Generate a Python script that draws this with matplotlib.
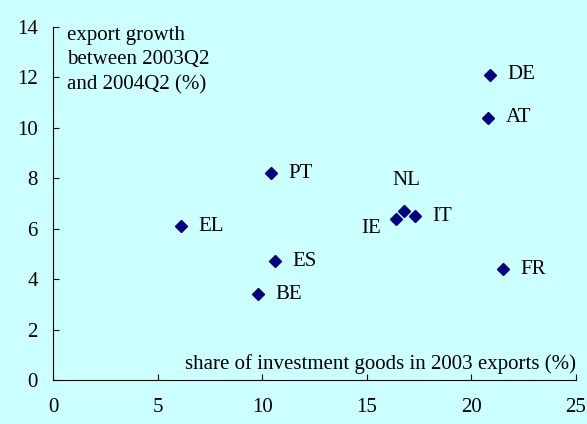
import matplotlib
matplotlib.use('Agg')
import matplotlib.pyplot as plt

plt.rcParams['font.family'] = ['Liberation Serif', 'DejaVu Serif']

countries = ['DE', 'AT', 'PT', 'EL', 'NL', 'IE', 'IT', 'ES', 'BE', 'FR']
invest_share = [20.9, 20.8, 10.4, 6.1, 16.8, 16.4, 17.3, 10.6, 9.8, 21.5]
export_growth = [12.1, 10.4, 8.2, 6.1, 6.7, 6.4, 6.5, 4.7, 3.4, 4.4]

# label offsets in points (dx, dy, ha, va)
offsets = {
    'NL': (1, 15, 'center', 'bottom'),
    'IE': (-11, -7, 'right', 'center'),
}

bg = '#ccffff'
fs = 15
fig = plt.figure(figsize=(5.87, 4.24), dpi=100, facecolor=bg)
ax = fig.add_axes([0.0903, 0.1038, 0.891, 0.8325])
ax.set_facecolor(bg)

ax.plot(invest_share, export_growth, linestyle='none', marker='D',
        markersize=6.5, color='#000080')

for c, x, y in zip(countries, invest_share, export_growth):
    dx, dy, ha, va = offsets.get(c, (12.5, 0, 'left', 'center'))
    ax.annotate(c, (x, y), xytext=(dx, dy), textcoords='offset points',
                ha=ha, va=va, fontsize=fs)

ax.set_xlim(0, 25)
ax.set_ylim(0, 14)
ax.set_xticks([0, 5, 10, 15, 20, 25])
ax.set_yticks(range(0, 15, 2))
ax.tick_params(direction='in', length=4, width=0.8, labelsize=fs)
ax.tick_params(axis='x', pad=13)
ax.tick_params(axis='y', pad=11)
for s in ['top', 'right']:
    ax.spines[s].set_visible(False)
for s in ['left', 'bottom']:
    ax.spines[s].set_linewidth(0.8)

ax.text(25, 0.25, 'share of investment goods in 2003 exports (%)',
        ha='right', va='bottom', fontsize=fs)
ax.text(0.65, 14.05, 'export growth\nbetween 2003Q2\nand 2004Q2 (%)',
        ha='left', va='top', fontsize=fs, linespacing=1.4)

fig.savefig('out.png', dpi=100, facecolor=bg)
